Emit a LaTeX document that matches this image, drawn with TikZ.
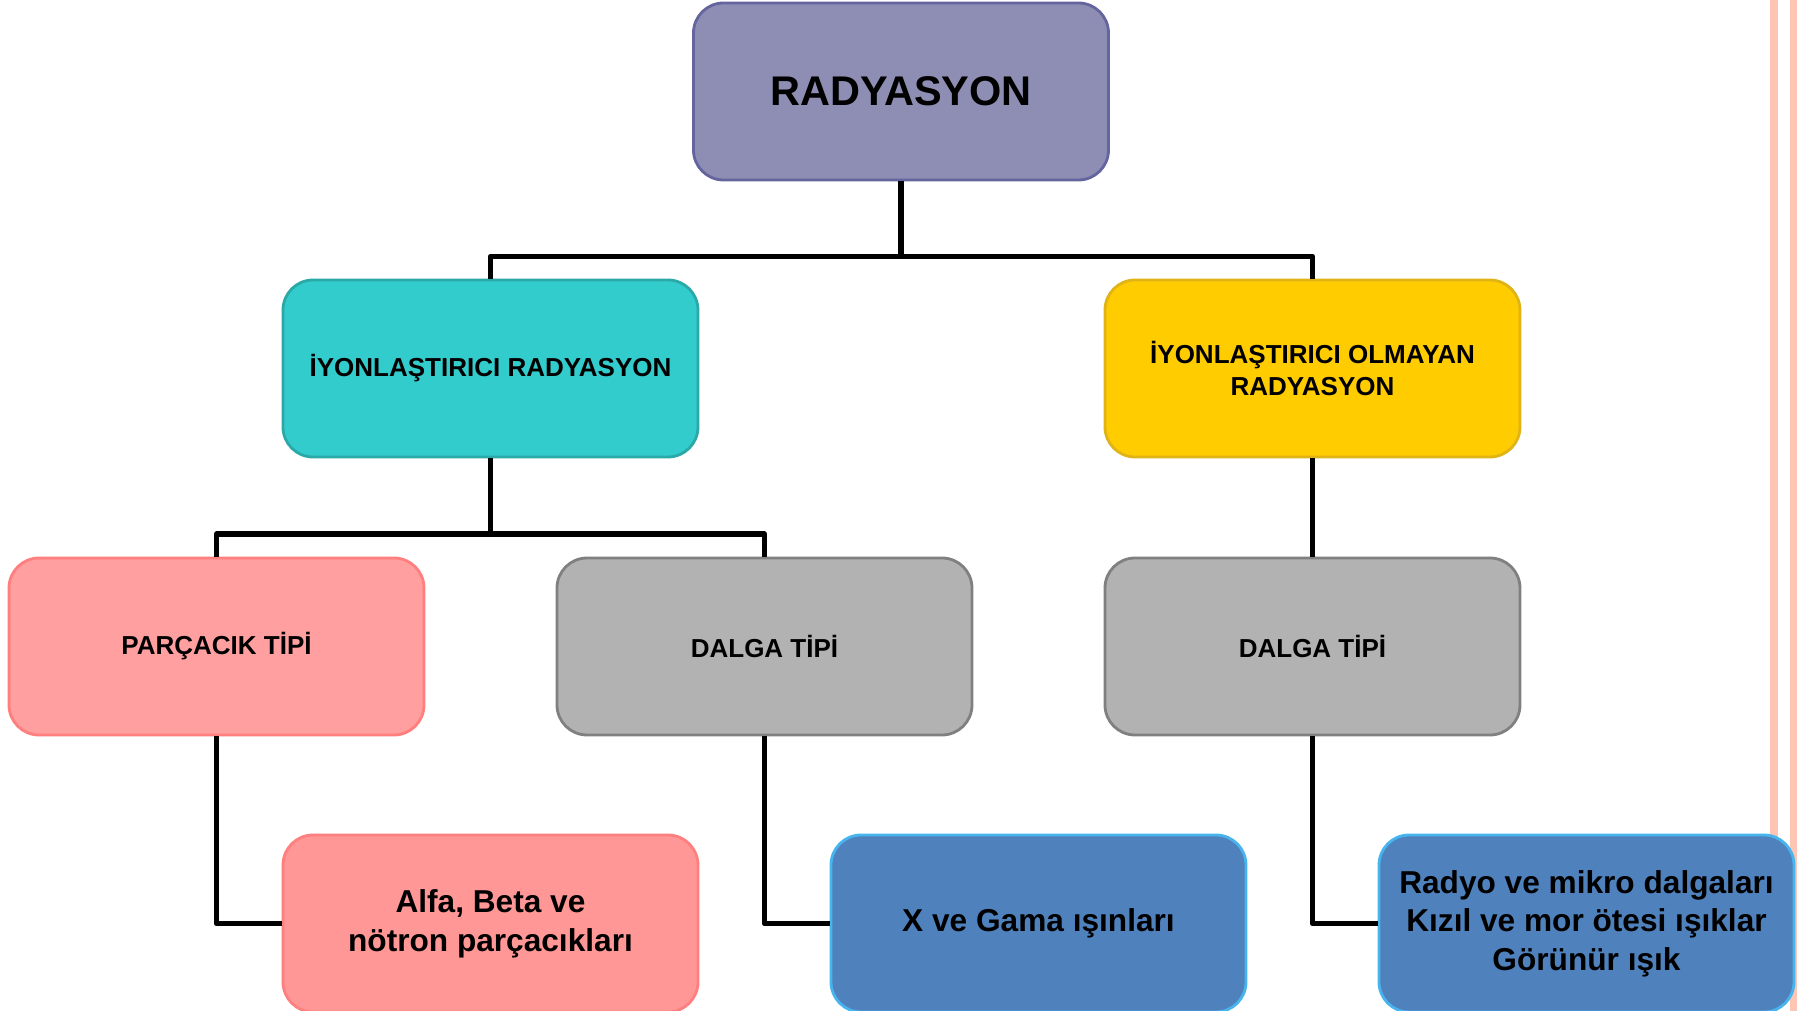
\documentclass[tikz,border=0pt]{standalone}
\usepackage{fontspec}
\setmainfont{Liberation Sans}
\usepackage{tikz}

\definecolor{rootfill}{HTML}{8E8EB4}
\definecolor{rootline}{HTML}{64649E}
\definecolor{tealfill}{HTML}{33CCCC}
\definecolor{tealline}{HTML}{2BA8A8}
\definecolor{goldfill}{HTML}{FFCC00}
\definecolor{goldline}{HTML}{E0B416}
\definecolor{pinkfill}{HTML}{FF9F9F}
\definecolor{pinkline}{HTML}{FF7F7F}
\definecolor{grayfill}{HTML}{B2B2B2}
\definecolor{grayline}{HTML}{808080}
\definecolor{bluefill}{HTML}{4F81BD}
\definecolor{blueline}{HTML}{48B4EE}
\definecolor{stripe}{HTML}{FCC5B4}

\begin{document}
\begin{tikzpicture}[
	box/.style={rounded corners=0.3cm, minimum width=4.15cm, minimum height=1.77cm, line width=0.8pt, align=center, font=\bfseries},
	midtext/.style={font=\fontsize{7.4}{8.9}\selectfont\bfseries},
	lowtext/.style={font=\fontsize{9}{11}\selectfont\bfseries},
	conn/.style={line width=1.5pt, line join=round}]
	\useasboundingbox (0,0) rectangle (17.97,-10.11);
	% right margin stripes
	\fill[stripe] (17.70,0) rectangle (17.78,-10.11);
	\fill[stripe] (17.90,0) rectangle (17.97,-10.11);
	% boxes
	\node[box, fill=rootfill, draw=rootline, font=\fontsize{11.8}{14}\selectfont\bfseries] (root) at (9.01,-0.915) {RADYASYON};
	\node[box, midtext, fill=tealfill, draw=tealline] (iyon) at (4.905,-3.685) {İYONLAŞTIRICI RADYASYON};
	\node[box, midtext, fill=goldfill, draw=goldline] (noniyon) at (13.125,-3.685) {İYONLAŞTIRICI OLMAYAN\\RADYASYON};
	\node[box, midtext, fill=pinkfill, draw=pinkline] (parcacik) at (2.165,-6.465) {PARÇACIK TİPİ};
	\node[box, midtext, fill=grayfill, draw=grayline] (dalgaA) at (7.645,-6.465) {DALGA TİPİ};
	\node[box, midtext, fill=grayfill, draw=grayline] (dalgaB) at (13.125,-6.465) {DALGA TİPİ};
	\node[box, lowtext, fill=pinkfill!95!red, draw=pinkline] (alfa) at (4.905,-9.235) {Alfa, Beta ve\\nötron parçacıkları};
	\node[box, lowtext, fill=bluefill, draw=blueline] (xgama) at (10.385,-9.235) {X ve Gama ışınları};
	\node[box, lowtext, fill=bluefill, draw=blueline] (radyo) at (15.865,-9.235) {Radyo ve mikro dalgaları\\Kızıl ve mor ötesi ışıklar\\Görünür ışık};
	% connectors
	\coordinate (bus1) at (9.01,-2.565);
	\coordinate (bus2) at (4.905,-5.34);
	\draw[conn] (root.south) -- (bus1) -| (iyon.north);
	\draw[conn] (bus1) -| (noniyon.north);
	\draw[conn] (iyon.south) -- (bus2) -| (parcacik.north);
	\draw[conn] (bus2) -| (dalgaA.north);
	\draw[conn] (noniyon.south) -- (dalgaB.north);
	\draw[conn] (parcacik.south) |- (alfa.west);
	\draw[conn] (dalgaA.south) |- (xgama.west);
	\draw[conn] (dalgaB.south) |- (radyo.west);
\end{tikzpicture}
\end{document}
